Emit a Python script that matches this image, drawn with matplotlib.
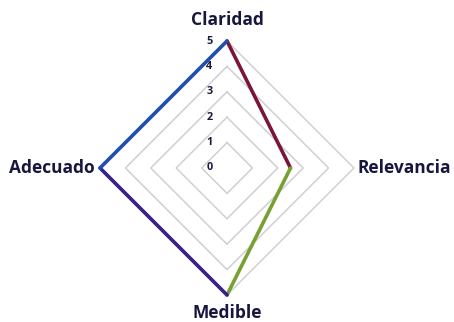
import numpy as np
import matplotlib
matplotlib.use("Agg")
import matplotlib.pyplot as plt

categories = ["Claridad", "Relevancia", "Medible", "Adecuado"]
values = [5, 2.5, 5, 5]
levels = [1, 2, 3, 4, 5]
tick_labels = ["0", "1", "2", "3", "4", "5"]
seg_colors = ["#7a1535", "#76a033", "#3b1e8c", "#1f4db0"]

angles = np.deg2rad([90, 0, -90, 180])
px = 25.4
fig = plt.figure(figsize=(4.54, 3.22), dpi=100)
ax = fig.add_axes([0, 0, 1, 1])
ax.set_xlim(-227 / px, 227 / px)
ax.set_ylim(-154 / px, 168 / px)
ax.axis("off")

# grid diamonds
for lv in levels:
    xs = [lv * np.cos(a) for a in angles] + [lv * np.cos(angles[0])]
    ys = [lv * np.sin(a) for a in angles] + [lv * np.sin(angles[0])]
    ax.plot(xs, ys, color="#cfcfd4", lw=1.1, zorder=1)

# data segments
n = len(values)
for i in range(n):
    j = (i + 1) % n
    x0, y0 = values[i] * np.cos(angles[i]), values[i] * np.sin(angles[i])
    x1, y1 = values[j] * np.cos(angles[j]), values[j] * np.sin(angles[j])
    ax.plot([x0, x1], [y0, y1], color=seg_colors[i], lw=2.6, zorder=3,
            solid_capstyle="round")

# tick labels
for k, t in enumerate(tick_labels):
    ax.text(-0.7, k, t, ha="center", va="center", fontsize=7.8,
            fontweight="bold", color="#1a1a3a", family="Open Sans", zorder=4)

lab_kw = dict(fontsize=12.5, fontweight="bold", color="#16163e", family="Open Sans")
ax.text(0, 5.83, categories[0], ha="center", va="center", **lab_kw)
ax.text(5.12, 0, categories[1], ha="left", va="center", **lab_kw)
ax.text(0, -5.71, categories[2], ha="center", va="center", **lab_kw)
ax.text(-5.2, 0, categories[3], ha="right", va="center", **lab_kw)

fig.savefig("out.png", dpi=100)
